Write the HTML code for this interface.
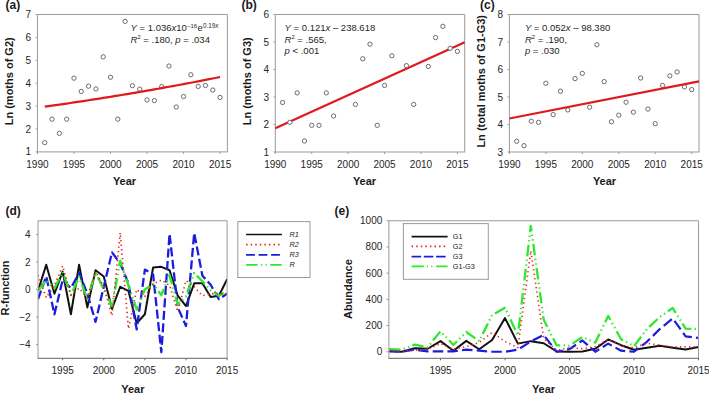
<!DOCTYPE html><html><head><meta charset="utf-8"><style>
html,body{margin:0;padding:0;background:#fff;width:709px;height:393px;overflow:hidden}
svg{display:block;font-family:"Liberation Sans", sans-serif}
.tk{font-size:10px;fill:#262626}
.lb{font-size:11px;font-weight:bold;fill:#1a1a1a}
.pl{font-size:12px;font-weight:bold;fill:#1a1a1a}
.eq{font-size:9.5px;fill:#262626}
.sp{font-size:5.8px}
.lg{font-size:7.3px;fill:#222}
</style></head><body>
<svg width="709" height="393" viewBox="0 0 709 393">
<line x1="37.45" y1="14.5" x2="227.4" y2="14.5" stroke="#9a9a9a"/>
<line x1="227.4" y1="14.5" x2="227.4" y2="151.9" stroke="#9a9a9a"/>
<line x1="37.45" y1="14.5" x2="37.45" y2="151.9" stroke="#9a9a9a"/>
<line x1="36.95" y1="151.9" x2="227.9" y2="151.9" stroke="#9a9a9a"/>
<line x1="35.65" y1="151.9" x2="37.45" y2="151.9" stroke="#9a9a9a"/>
<text x="31.15" y="155.4" text-anchor="end" class="tk">1</text>
<line x1="35.65" y1="129" x2="37.45" y2="129" stroke="#9a9a9a"/>
<text x="31.15" y="132.5" text-anchor="end" class="tk">2</text>
<line x1="35.65" y1="106.1" x2="37.45" y2="106.1" stroke="#9a9a9a"/>
<text x="31.15" y="109.6" text-anchor="end" class="tk">3</text>
<line x1="35.65" y1="83.2" x2="37.45" y2="83.2" stroke="#9a9a9a"/>
<text x="31.15" y="86.7" text-anchor="end" class="tk">4</text>
<line x1="35.65" y1="60.3" x2="37.45" y2="60.3" stroke="#9a9a9a"/>
<text x="31.15" y="63.8" text-anchor="end" class="tk">5</text>
<line x1="35.65" y1="37.4" x2="37.45" y2="37.4" stroke="#9a9a9a"/>
<text x="31.15" y="40.9" text-anchor="end" class="tk">6</text>
<line x1="35.65" y1="14.5" x2="37.45" y2="14.5" stroke="#9a9a9a"/>
<text x="31.15" y="18" text-anchor="end" class="tk">7</text>
<line x1="37.45" y1="151.9" x2="37.45" y2="153.9" stroke="#9a9a9a"/>
<text x="37.45" y="167.6" text-anchor="middle" class="tk">1990</text>
<line x1="73.98" y1="151.9" x2="73.98" y2="153.9" stroke="#9a9a9a"/>
<text x="73.98" y="167.6" text-anchor="middle" class="tk">1995</text>
<line x1="110.51" y1="151.9" x2="110.51" y2="153.9" stroke="#9a9a9a"/>
<text x="110.51" y="167.6" text-anchor="middle" class="tk">2000</text>
<line x1="147.04" y1="151.9" x2="147.04" y2="153.9" stroke="#9a9a9a"/>
<text x="147.04" y="167.6" text-anchor="middle" class="tk">2005</text>
<line x1="183.57" y1="151.9" x2="183.57" y2="153.9" stroke="#9a9a9a"/>
<text x="183.57" y="167.6" text-anchor="middle" class="tk">2010</text>
<line x1="220.09" y1="151.9" x2="220.09" y2="153.9" stroke="#9a9a9a"/>
<text x="220.09" y="167.6" text-anchor="middle" class="tk">2015</text>
<circle cx="44.76" cy="142.63" r="2.15" fill="#fff" stroke="#5c5c5c" stroke-width="0.9"/>
<circle cx="52.06" cy="119.15" r="2.15" fill="#fff" stroke="#5c5c5c" stroke-width="0.9"/>
<circle cx="59.37" cy="133.35" r="2.15" fill="#fff" stroke="#5c5c5c" stroke-width="0.9"/>
<circle cx="66.67" cy="119.15" r="2.15" fill="#fff" stroke="#5c5c5c" stroke-width="0.9"/>
<circle cx="73.98" cy="78.16" r="2.15" fill="#fff" stroke="#5c5c5c" stroke-width="0.9"/>
<circle cx="81.28" cy="91.44" r="2.15" fill="#fff" stroke="#5c5c5c" stroke-width="0.9"/>
<circle cx="88.59" cy="86.18" r="2.15" fill="#fff" stroke="#5c5c5c" stroke-width="0.9"/>
<circle cx="95.9" cy="88.93" r="2.15" fill="#fff" stroke="#5c5c5c" stroke-width="0.9"/>
<circle cx="103.2" cy="56.86" r="2.15" fill="#fff" stroke="#5c5c5c" stroke-width="0.9"/>
<circle cx="110.51" cy="77.25" r="2.15" fill="#fff" stroke="#5c5c5c" stroke-width="0.9"/>
<circle cx="117.81" cy="119.15" r="2.15" fill="#fff" stroke="#5c5c5c" stroke-width="0.9"/>
<circle cx="125.12" cy="21.37" r="2.15" fill="#fff" stroke="#5c5c5c" stroke-width="0.9"/>
<circle cx="132.43" cy="85.72" r="2.15" fill="#fff" stroke="#5c5c5c" stroke-width="0.9"/>
<circle cx="139.73" cy="89.15" r="2.15" fill="#fff" stroke="#5c5c5c" stroke-width="0.9"/>
<circle cx="147.04" cy="99.92" r="2.15" fill="#fff" stroke="#5c5c5c" stroke-width="0.9"/>
<circle cx="154.34" cy="100.6" r="2.15" fill="#fff" stroke="#5c5c5c" stroke-width="0.9"/>
<circle cx="161.65" cy="86.64" r="2.15" fill="#fff" stroke="#5c5c5c" stroke-width="0.9"/>
<circle cx="168.95" cy="66.03" r="2.15" fill="#fff" stroke="#5c5c5c" stroke-width="0.9"/>
<circle cx="176.26" cy="107.02" r="2.15" fill="#fff" stroke="#5c5c5c" stroke-width="0.9"/>
<circle cx="183.57" cy="96.48" r="2.15" fill="#fff" stroke="#5c5c5c" stroke-width="0.9"/>
<circle cx="190.87" cy="74.73" r="2.15" fill="#fff" stroke="#5c5c5c" stroke-width="0.9"/>
<circle cx="198.18" cy="86.41" r="2.15" fill="#fff" stroke="#5c5c5c" stroke-width="0.9"/>
<circle cx="205.48" cy="85.49" r="2.15" fill="#fff" stroke="#5c5c5c" stroke-width="0.9"/>
<circle cx="212.79" cy="90.07" r="2.15" fill="#fff" stroke="#5c5c5c" stroke-width="0.9"/>
<circle cx="220.09" cy="97.4" r="2.15" fill="#fff" stroke="#5c5c5c" stroke-width="0.9"/>
<polyline points="44.76,106.7 48.41,106.18 52.06,105.66 55.71,105.14 59.37,104.61 63.02,104.08 66.67,103.54 70.33,103 73.98,102.46 77.63,101.91 81.28,101.36 84.94,100.81 88.59,100.25 92.24,99.68 95.9,99.11 99.55,98.54 103.2,97.96 106.85,97.38 110.51,96.8 114.16,96.2 117.81,95.61 121.47,95.01 125.12,94.41 128.77,93.8 132.43,93.18 136.08,92.57 139.73,91.94 143.38,91.32 147.04,90.69 150.69,90.05 154.34,89.41 158,88.76 161.65,88.11 165.3,87.45 168.95,86.79 172.61,86.13 176.26,85.46 179.91,84.78 183.57,84.1 187.22,83.41 190.87,82.72 194.52,82.02 198.18,81.32 201.83,80.61 205.48,79.9 209.14,79.18 212.79,78.46 216.44,77.73 220.09,76.99" fill="none" stroke="#e0191e" stroke-width="2.2"/>
<text class="eq" x="130.6" y="31"><tspan font-style="italic">Y</tspan> = 1.036<tspan font-style="italic">x</tspan>10<tspan class="sp" style="font-size:6px" dy="-3.3">−16</tspan><tspan dy="3.3" dx="0.4">e</tspan><tspan class="sp" style="font-size:6.3px" dy="-3.3" dx="0.3">0.19<tspan font-style="italic">x</tspan></tspan></text><text class="eq" x="130.6" y="42.7"><tspan font-style="italic">R</tspan><tspan class="sp" dy="-3.3">2</tspan><tspan dy="3.3"> = .180, </tspan><tspan font-style="italic">p</tspan> = .034</text>
<text class="lb" text-anchor="middle" transform="translate(12.7,81.3) rotate(-90)">Ln (moths of G2)</text>
<text class="lb" x="124.5" y="185.3" text-anchor="middle">Year</text>
<text class="pl" x="5.6" y="8.8">(a)</text>
<line x1="275.3" y1="14.5" x2="464.7" y2="14.5" stroke="#9a9a9a"/>
<line x1="464.7" y1="14.5" x2="464.7" y2="152" stroke="#9a9a9a"/>
<line x1="275.3" y1="14.5" x2="275.3" y2="152" stroke="#9a9a9a"/>
<line x1="274.8" y1="152" x2="465.2" y2="152" stroke="#9a9a9a"/>
<line x1="273.5" y1="152" x2="275.3" y2="152" stroke="#9a9a9a"/>
<text x="269" y="155.5" text-anchor="end" class="tk">1</text>
<line x1="273.5" y1="124.5" x2="275.3" y2="124.5" stroke="#9a9a9a"/>
<text x="269" y="128" text-anchor="end" class="tk">2</text>
<line x1="273.5" y1="97" x2="275.3" y2="97" stroke="#9a9a9a"/>
<text x="269" y="100.5" text-anchor="end" class="tk">3</text>
<line x1="273.5" y1="69.5" x2="275.3" y2="69.5" stroke="#9a9a9a"/>
<text x="269" y="73" text-anchor="end" class="tk">4</text>
<line x1="273.5" y1="42" x2="275.3" y2="42" stroke="#9a9a9a"/>
<text x="269" y="45.5" text-anchor="end" class="tk">5</text>
<line x1="273.5" y1="14.5" x2="275.3" y2="14.5" stroke="#9a9a9a"/>
<text x="269" y="18" text-anchor="end" class="tk">6</text>
<line x1="275.3" y1="152" x2="275.3" y2="154" stroke="#9a9a9a"/>
<text x="275.3" y="167.7" text-anchor="middle" class="tk">1990</text>
<line x1="311.72" y1="152" x2="311.72" y2="154" stroke="#9a9a9a"/>
<text x="311.72" y="167.7" text-anchor="middle" class="tk">1995</text>
<line x1="348.15" y1="152" x2="348.15" y2="154" stroke="#9a9a9a"/>
<text x="348.15" y="167.7" text-anchor="middle" class="tk">2000</text>
<line x1="384.57" y1="152" x2="384.57" y2="154" stroke="#9a9a9a"/>
<text x="384.57" y="167.7" text-anchor="middle" class="tk">2005</text>
<line x1="420.99" y1="152" x2="420.99" y2="154" stroke="#9a9a9a"/>
<text x="420.99" y="167.7" text-anchor="middle" class="tk">2010</text>
<line x1="457.42" y1="152" x2="457.42" y2="154" stroke="#9a9a9a"/>
<text x="457.42" y="167.7" text-anchor="middle" class="tk">2015</text>
<polyline points="275.3,128.21 464.7,42.19" fill="none" stroke="#e0191e" stroke-width="2.2"/>
<circle cx="282.58" cy="102.5" r="2.15" fill="#fff" stroke="#5c5c5c" stroke-width="0.9"/>
<circle cx="289.87" cy="122.3" r="2.15" fill="#fff" stroke="#5c5c5c" stroke-width="0.9"/>
<circle cx="297.15" cy="92.88" r="2.15" fill="#fff" stroke="#5c5c5c" stroke-width="0.9"/>
<circle cx="304.44" cy="141" r="2.15" fill="#fff" stroke="#5c5c5c" stroke-width="0.9"/>
<circle cx="311.72" cy="125.33" r="2.15" fill="#fff" stroke="#5c5c5c" stroke-width="0.9"/>
<circle cx="319.01" cy="125.33" r="2.15" fill="#fff" stroke="#5c5c5c" stroke-width="0.9"/>
<circle cx="326.29" cy="92.88" r="2.15" fill="#fff" stroke="#5c5c5c" stroke-width="0.9"/>
<circle cx="333.58" cy="115.97" r="2.15" fill="#fff" stroke="#5c5c5c" stroke-width="0.9"/>
<circle cx="355.43" cy="104.42" r="2.15" fill="#fff" stroke="#5c5c5c" stroke-width="0.9"/>
<circle cx="362.72" cy="58.78" r="2.15" fill="#fff" stroke="#5c5c5c" stroke-width="0.9"/>
<circle cx="370" cy="44.2" r="2.15" fill="#fff" stroke="#5c5c5c" stroke-width="0.9"/>
<circle cx="377.28" cy="125.33" r="2.15" fill="#fff" stroke="#5c5c5c" stroke-width="0.9"/>
<circle cx="384.57" cy="85.45" r="2.15" fill="#fff" stroke="#5c5c5c" stroke-width="0.9"/>
<circle cx="391.85" cy="55.75" r="2.15" fill="#fff" stroke="#5c5c5c" stroke-width="0.9"/>
<circle cx="406.42" cy="65.65" r="2.15" fill="#fff" stroke="#5c5c5c" stroke-width="0.9"/>
<circle cx="413.71" cy="104.42" r="2.15" fill="#fff" stroke="#5c5c5c" stroke-width="0.9"/>
<circle cx="428.28" cy="66.47" r="2.15" fill="#fff" stroke="#5c5c5c" stroke-width="0.9"/>
<circle cx="435.56" cy="37.6" r="2.15" fill="#fff" stroke="#5c5c5c" stroke-width="0.9"/>
<circle cx="442.85" cy="26.33" r="2.15" fill="#fff" stroke="#5c5c5c" stroke-width="0.9"/>
<circle cx="450.13" cy="48.33" r="2.15" fill="#fff" stroke="#5c5c5c" stroke-width="0.9"/>
<circle cx="457.42" cy="51.35" r="2.15" fill="#fff" stroke="#5c5c5c" stroke-width="0.9"/>
<text class="eq" x="284.6" y="30.8"><tspan font-style="italic">Y</tspan> = 0.121<tspan font-style="italic">x</tspan> – 238.618</text><text class="eq" x="284.6" y="42.5"><tspan font-style="italic">R</tspan><tspan class="sp" dy="-3.3">2</tspan><tspan dy="3.3"> = .565,</tspan></text><text class="eq" x="284.6" y="53.9"><tspan font-style="italic">p</tspan> &lt; .001</text>
<text class="lb" text-anchor="middle" transform="translate(250.55,81.3) rotate(-90)">Ln (moths of G3)</text>
<text class="lb" x="364.5" y="185.3" text-anchor="middle">Year</text>
<text class="pl" x="241.5" y="8.8">(b)</text>
<line x1="509.4" y1="14.5" x2="699" y2="14.5" stroke="#9a9a9a"/>
<line x1="699" y1="14.5" x2="699" y2="152" stroke="#9a9a9a"/>
<line x1="509.4" y1="14.5" x2="509.4" y2="152" stroke="#9a9a9a"/>
<line x1="508.9" y1="152" x2="699.5" y2="152" stroke="#9a9a9a"/>
<line x1="507.6" y1="152" x2="509.4" y2="152" stroke="#9a9a9a"/>
<text x="503.1" y="155.5" text-anchor="end" class="tk">3</text>
<line x1="507.6" y1="124.5" x2="509.4" y2="124.5" stroke="#9a9a9a"/>
<text x="503.1" y="128" text-anchor="end" class="tk">4</text>
<line x1="507.6" y1="97" x2="509.4" y2="97" stroke="#9a9a9a"/>
<text x="503.1" y="100.5" text-anchor="end" class="tk">5</text>
<line x1="507.6" y1="69.5" x2="509.4" y2="69.5" stroke="#9a9a9a"/>
<text x="503.1" y="73" text-anchor="end" class="tk">6</text>
<line x1="507.6" y1="42" x2="509.4" y2="42" stroke="#9a9a9a"/>
<text x="503.1" y="45.5" text-anchor="end" class="tk">7</text>
<line x1="507.6" y1="14.5" x2="509.4" y2="14.5" stroke="#9a9a9a"/>
<text x="503.1" y="18" text-anchor="end" class="tk">8</text>
<line x1="509.4" y1="152" x2="509.4" y2="154" stroke="#9a9a9a"/>
<text x="509.4" y="167.7" text-anchor="middle" class="tk">1990</text>
<line x1="545.86" y1="152" x2="545.86" y2="154" stroke="#9a9a9a"/>
<text x="545.86" y="167.7" text-anchor="middle" class="tk">1995</text>
<line x1="582.32" y1="152" x2="582.32" y2="154" stroke="#9a9a9a"/>
<text x="582.32" y="167.7" text-anchor="middle" class="tk">2000</text>
<line x1="618.78" y1="152" x2="618.78" y2="154" stroke="#9a9a9a"/>
<text x="618.78" y="167.7" text-anchor="middle" class="tk">2005</text>
<line x1="655.25" y1="152" x2="655.25" y2="154" stroke="#9a9a9a"/>
<text x="655.25" y="167.7" text-anchor="middle" class="tk">2010</text>
<line x1="691.71" y1="152" x2="691.71" y2="154" stroke="#9a9a9a"/>
<text x="691.71" y="167.7" text-anchor="middle" class="tk">2015</text>
<circle cx="516.69" cy="141.28" r="2.15" fill="#fff" stroke="#5c5c5c" stroke-width="0.9"/>
<circle cx="523.98" cy="145.68" r="2.15" fill="#fff" stroke="#5c5c5c" stroke-width="0.9"/>
<circle cx="531.28" cy="121.2" r="2.15" fill="#fff" stroke="#5c5c5c" stroke-width="0.9"/>
<circle cx="538.57" cy="122.3" r="2.15" fill="#fff" stroke="#5c5c5c" stroke-width="0.9"/>
<circle cx="545.86" cy="83.25" r="2.15" fill="#fff" stroke="#5c5c5c" stroke-width="0.9"/>
<circle cx="553.15" cy="114.6" r="2.15" fill="#fff" stroke="#5c5c5c" stroke-width="0.9"/>
<circle cx="560.45" cy="91.22" r="2.15" fill="#fff" stroke="#5c5c5c" stroke-width="0.9"/>
<circle cx="567.74" cy="109.92" r="2.15" fill="#fff" stroke="#5c5c5c" stroke-width="0.9"/>
<circle cx="575.03" cy="78.58" r="2.15" fill="#fff" stroke="#5c5c5c" stroke-width="0.9"/>
<circle cx="582.32" cy="73.35" r="2.15" fill="#fff" stroke="#5c5c5c" stroke-width="0.9"/>
<circle cx="589.62" cy="107.18" r="2.15" fill="#fff" stroke="#5c5c5c" stroke-width="0.9"/>
<circle cx="596.91" cy="44.75" r="2.15" fill="#fff" stroke="#5c5c5c" stroke-width="0.9"/>
<circle cx="604.2" cy="81.6" r="2.15" fill="#fff" stroke="#5c5c5c" stroke-width="0.9"/>
<circle cx="611.49" cy="121.75" r="2.15" fill="#fff" stroke="#5c5c5c" stroke-width="0.9"/>
<circle cx="618.78" cy="115.15" r="2.15" fill="#fff" stroke="#5c5c5c" stroke-width="0.9"/>
<circle cx="626.08" cy="102.23" r="2.15" fill="#fff" stroke="#5c5c5c" stroke-width="0.9"/>
<circle cx="633.37" cy="112.12" r="2.15" fill="#fff" stroke="#5c5c5c" stroke-width="0.9"/>
<circle cx="640.66" cy="78.02" r="2.15" fill="#fff" stroke="#5c5c5c" stroke-width="0.9"/>
<circle cx="647.95" cy="109.1" r="2.15" fill="#fff" stroke="#5c5c5c" stroke-width="0.9"/>
<circle cx="655.25" cy="123.67" r="2.15" fill="#fff" stroke="#5c5c5c" stroke-width="0.9"/>
<circle cx="662.54" cy="85.45" r="2.15" fill="#fff" stroke="#5c5c5c" stroke-width="0.9"/>
<circle cx="669.83" cy="75.83" r="2.15" fill="#fff" stroke="#5c5c5c" stroke-width="0.9"/>
<circle cx="677.12" cy="71.97" r="2.15" fill="#fff" stroke="#5c5c5c" stroke-width="0.9"/>
<circle cx="684.42" cy="86.83" r="2.15" fill="#fff" stroke="#5c5c5c" stroke-width="0.9"/>
<circle cx="691.71" cy="89.58" r="2.15" fill="#fff" stroke="#5c5c5c" stroke-width="0.9"/>
<polyline points="509.4,118.5 699,81.3" fill="none" stroke="#e0191e" stroke-width="2.2"/>
<text class="eq" x="524.9" y="30.8"><tspan font-style="italic">Y</tspan> = 0.052<tspan font-style="italic">x</tspan> – 98.380</text><text class="eq" x="524.9" y="42.5"><tspan font-style="italic">R</tspan><tspan class="sp" dy="-3.3">2</tspan><tspan dy="3.3"> = .190,</tspan></text><text class="eq" x="524.9" y="53.9"><tspan font-style="italic">p</tspan> = .030</text>
<text class="lb" text-anchor="middle" transform="translate(484.65,81.3) rotate(-90)">Ln (total moths of G1-G3)</text>
<text class="lb" x="604.5" y="185.3" text-anchor="middle">Year</text>
<text class="pl" x="480" y="8.8">(c)</text>
<svg x="38" y="220.75" width="189.1" height="137.55" viewBox="38 220.75 189.1 137.55" overflow="hidden">
<polyline points="38,290.9 46.22,264.77 54.44,293.65 62.67,271.64 70.89,314.28 79.11,264.77 87.33,307.41 95.55,270.27 103.77,276.46 112,308.78 120.22,286.77 128.44,290.9 136.66,323.22 144.88,314.28 153.1,267.52 161.33,266.83 169.55,270.27 177.77,295.71 185.99,306.03 194.21,283.34 202.43,283.34 210.66,297.09 218.88,295.71 227.1,279.21" fill="none" stroke-linejoin="round" stroke="#111" stroke-width="2"/>
<polyline points="38,299.15 46.22,276.46 54.44,314.28 62.67,279.9 70.89,288.15 79.11,273.02 87.33,293.65 95.55,321.85 103.77,286.77 112,252.39 120.22,263.39 128.44,283.34 136.66,329.41 144.88,269.58 153.1,274.39 161.33,352.11 169.55,233.82 177.77,307.41 185.99,325.98 194.21,233.13 202.43,275.77 210.66,284.71 218.88,299.15 227.1,293.65" fill="none" stroke-linejoin="round" stroke="#1c1ce0" stroke-width="2.3" stroke-dasharray="9 3.5"/>
<polyline points="38,290.9 46.22,280.17 54.44,288.42 62.67,271.78 70.89,295.03 79.11,276.73 87.33,299.15 95.55,272.33 103.77,289.52 112,306.03 120.22,260.64 128.44,285.4 136.66,309.47 144.88,289.52 153.1,284.02 161.33,295.03 169.55,275.08 177.77,304.66 185.99,296.4 194.21,273.02 202.43,281.27 210.66,290.21 218.88,295.71 227.1,291.18" fill="none" stroke-linejoin="round" stroke="#2ee82e" stroke-width="2.4" stroke-dasharray="11.5 3.4 1.3 3.4 1.3 3.4"/>
<polyline points="38,275.08 46.22,297.78 54.44,285.4 62.67,266 70.89,295.03 79.11,288.15 87.33,297.78 95.55,271.64 103.77,286.77 112,315.66 120.22,232.72 128.44,328.73 136.66,289.52 144.88,296.4 153.1,284.02 161.33,279.9 169.55,285.4 177.77,311.53 185.99,280.58 194.21,286.77 202.43,295.71 210.66,293.65 218.88,293.65 227.1,293.65" fill="none" stroke-linejoin="round" stroke="#e62222" stroke-width="1.7" stroke-dasharray="1.3 3.2"/>
</svg>
<line x1="38" y1="220.75" x2="227.1" y2="220.75" stroke="#9a9a9a"/>
<line x1="227.1" y1="220.75" x2="227.1" y2="358.3" stroke="#9a9a9a"/>
<line x1="38" y1="220.75" x2="38" y2="358.3" stroke="#9a9a9a"/>
<line x1="37.5" y1="358.3" x2="227.6" y2="358.3" stroke="#666666"/>
<line x1="36" y1="234.5" x2="38" y2="234.5" stroke="#9a9a9a"/>
<text x="30.6" y="238" text-anchor="end" class="tk">4</text>
<line x1="36" y1="262.01" x2="38" y2="262.01" stroke="#9a9a9a"/>
<text x="30.6" y="265.51" text-anchor="end" class="tk">2</text>
<line x1="36" y1="289.52" x2="38" y2="289.52" stroke="#9a9a9a"/>
<text x="30.6" y="293.02" text-anchor="end" class="tk">0</text>
<line x1="36" y1="317.04" x2="38" y2="317.04" stroke="#9a9a9a"/>
<text x="30.6" y="320.54" text-anchor="end" class="tk">−2</text>
<line x1="36" y1="344.55" x2="38" y2="344.55" stroke="#9a9a9a"/>
<text x="30.6" y="348.05" text-anchor="end" class="tk">−4</text>
<line x1="62.67" y1="358.3" x2="62.67" y2="360.3" stroke="#666666"/>
<text x="62.67" y="374" text-anchor="middle" class="tk">1995</text>
<line x1="103.77" y1="358.3" x2="103.77" y2="360.3" stroke="#666666"/>
<text x="103.77" y="374" text-anchor="middle" class="tk">2000</text>
<line x1="144.88" y1="358.3" x2="144.88" y2="360.3" stroke="#666666"/>
<text x="144.88" y="374" text-anchor="middle" class="tk">2005</text>
<line x1="185.99" y1="358.3" x2="185.99" y2="360.3" stroke="#666666"/>
<text x="185.99" y="374" text-anchor="middle" class="tk">2010</text>
<line x1="227.1" y1="358.3" x2="227.1" y2="360.3" stroke="#666666"/>
<text x="227.1" y="374" text-anchor="middle" class="tk">2015</text>
<text class="lb" text-anchor="middle" transform="translate(9.3,288) rotate(-90)">R-function</text>
<text class="lb" x="132.8" y="393.1" text-anchor="middle">Year</text>
<text class="pl" x="5.4" y="214.8">(d)</text>
<rect x="237.8" y="221.6" width="72.2" height="55.9" fill="none" stroke="#9a9a9a"/>
<line x1="246.1" y1="234.5" x2="281.9" y2="234.5" stroke="#111" stroke-width="1.6"/>
<line x1="246.1" y1="244.6" x2="281.9" y2="244.6" stroke="#e62222" stroke-width="1.7" stroke-dasharray="1.5 3.06"/>
<line x1="246.1" y1="254.8" x2="281.9" y2="254.8" stroke="#1c1ce0" stroke-width="1.8" stroke-dasharray="8.8 3.7"/>
<line x1="246.1" y1="264.9" x2="281.9" y2="264.9" stroke="#2ee82e" stroke-width="1.8" stroke-dasharray="11.4 3.6 1.2 3.3 1.2 3.5"/>
<text class="lg" font-style="italic" x="289.6" y="237.1">R1</text>
<text class="lg" font-style="italic" x="289.6" y="247.23">R2</text>
<text class="lg" font-style="italic" x="289.6" y="257.36">R3</text>
<text class="lg" font-style="italic" x="289.6" y="267.49">R</text>
<svg x="388.9" y="220.75" width="309.6" height="137.55" viewBox="388.9 220.75 309.6 137.55" overflow="hidden">
<polyline points="388.9,350.7 401.8,351.75 414.7,348.34 427.6,348.74 440.5,341.14 453.4,350.7 466.3,340.88 479.2,349.26 492.1,339.96 505,318.08 517.9,343.63 530.8,341.14 543.7,343.24 556.6,351.49 569.5,351.75 582.4,351.49 595.3,348.74 608.2,339.44 621.1,345.2 634,349.79 646.9,347.82 659.8,345.86 672.7,347.82 685.6,349.52 698.5,346.9" fill="none" stroke-linejoin="round" stroke="#111" stroke-width="2"/>
<polyline points="388.9,351.36 401.8,351.75 414.7,349.65 427.6,351.36 440.5,351.36 453.4,351.36 466.3,349.65 479.2,350.7 492.1,351.75 505,351.75 517.9,349.65 530.8,341.53 543.7,334.98 556.6,351.75 569.5,349.13 582.4,340.48 595.3,351.75 608.2,343.63 621.1,350.7 634,351.75 646.9,341.79 659.8,329.09 672.7,318.48 685.6,336.29 698.5,338" fill="none" stroke-linejoin="round" stroke="#1c1ce0" stroke-width="2.2" stroke-dasharray="10.5 4.2"/>
<polyline points="388.9,349.13 401.8,349.65 414.7,344.55 427.6,347.3 440.5,331.31 453.4,344.94 466.3,331.97 479.2,341.14 492.1,315.07 505,307.87 517.9,335.38 530.8,225.99 543.7,319.66 556.6,345.2 569.5,345.59 582.4,337.08 595.3,342.58 608.2,315.99 621.1,339.31 634,346.25 646.9,329.09 659.8,317.04 672.7,308 685.6,328.56 698.5,329.09" fill="none" stroke-linejoin="round" stroke="#2ee82e" stroke-width="2.3" stroke-dasharray="11.5 3.4 1.3 3.4 1.3 3.4"/>
<polyline points="388.9,351.1 401.8,351.1 414.7,350.44 427.6,349.13 440.5,343.63 453.4,349.13 466.3,346.64 479.2,342.58 492.1,332.36 505,341.53 517.9,347.69 530.8,250.75 543.7,338.65 556.6,350.44 569.5,347.69 582.4,348.74 595.3,346.64 608.2,339.44 621.1,345.59 634,347.69 646.9,343.24 659.8,345.2 672.7,346.9 685.6,346.9 698.5,346.9" fill="none" stroke-linejoin="round" stroke="#e62222" stroke-width="1.6" stroke-dasharray="1.3 3.2"/>
</svg>
<line x1="388.9" y1="220.75" x2="698.5" y2="220.75" stroke="#9a9a9a"/>
<line x1="698.5" y1="220.75" x2="698.5" y2="358.3" stroke="#9a9a9a"/>
<line x1="388.9" y1="220.75" x2="388.9" y2="358.3" stroke="#9a9a9a"/>
<line x1="388.4" y1="358.3" x2="699" y2="358.3" stroke="#666666"/>
<line x1="386.4" y1="351.75" x2="388.9" y2="351.75" stroke="#9a9a9a"/>
<text x="382.3" y="355.25" text-anchor="end" class="tk">0</text>
<line x1="386.4" y1="325.55" x2="388.9" y2="325.55" stroke="#9a9a9a"/>
<text x="382.3" y="329.05" text-anchor="end" class="tk">200</text>
<line x1="386.4" y1="299.35" x2="388.9" y2="299.35" stroke="#9a9a9a"/>
<text x="382.3" y="302.85" text-anchor="end" class="tk">400</text>
<line x1="386.4" y1="273.15" x2="388.9" y2="273.15" stroke="#9a9a9a"/>
<text x="382.3" y="276.65" text-anchor="end" class="tk">600</text>
<line x1="386.4" y1="246.95" x2="388.9" y2="246.95" stroke="#9a9a9a"/>
<text x="382.3" y="250.45" text-anchor="end" class="tk">800</text>
<line x1="386.4" y1="220.75" x2="388.9" y2="220.75" stroke="#9a9a9a"/>
<text x="382.3" y="224.25" text-anchor="end" class="tk">1000</text>
<line x1="440.5" y1="358.3" x2="440.5" y2="360.3" stroke="#666666"/>
<text x="440.5" y="374" text-anchor="middle" class="tk">1995</text>
<line x1="505" y1="358.3" x2="505" y2="360.3" stroke="#666666"/>
<text x="505" y="374" text-anchor="middle" class="tk">2000</text>
<line x1="569.5" y1="358.3" x2="569.5" y2="360.3" stroke="#666666"/>
<text x="569.5" y="374" text-anchor="middle" class="tk">2005</text>
<line x1="634" y1="358.3" x2="634" y2="360.3" stroke="#666666"/>
<text x="634" y="374" text-anchor="middle" class="tk">2010</text>
<line x1="698.5" y1="358.3" x2="698.5" y2="360.3" stroke="#666666"/>
<text x="698.5" y="374" text-anchor="middle" class="tk">2015</text>
<text class="lb" text-anchor="middle" transform="translate(352.4,289.1) rotate(-90)">Abundance</text>
<text class="lb" x="543.5" y="393.1" text-anchor="middle">Year</text>
<text class="pl" x="334.6" y="214.8">(e)</text>
<rect x="403.4" y="223.6" width="84.9" height="55.7" fill="none" stroke="#9a9a9a"/>
<line x1="411.6" y1="236.6" x2="447.6" y2="236.6" stroke="#111" stroke-width="1.6"/>
<line x1="411.6" y1="246.4" x2="447.6" y2="246.4" stroke="#e62222" stroke-width="1.7" stroke-dasharray="1.5 3.08"/>
<line x1="411.6" y1="256.7" x2="447.6" y2="256.7" stroke="#1c1ce0" stroke-width="1.8" stroke-dasharray="9.5 2.75"/>
<line x1="411.6" y1="266.4" x2="447.6" y2="266.4" stroke="#2ee82e" stroke-width="1.8" stroke-dasharray="12.2 3 1.1 3.4 1.1 3.9"/>
<text class="lg" x="452.8" y="239.1">G1</text>
<text class="lg" x="452.8" y="249.15">G2</text>
<text class="lg" x="452.8" y="259.2">G3</text>
<text class="lg" x="452.8" y="269.25">G1-G3</text>
</svg></body></html>
